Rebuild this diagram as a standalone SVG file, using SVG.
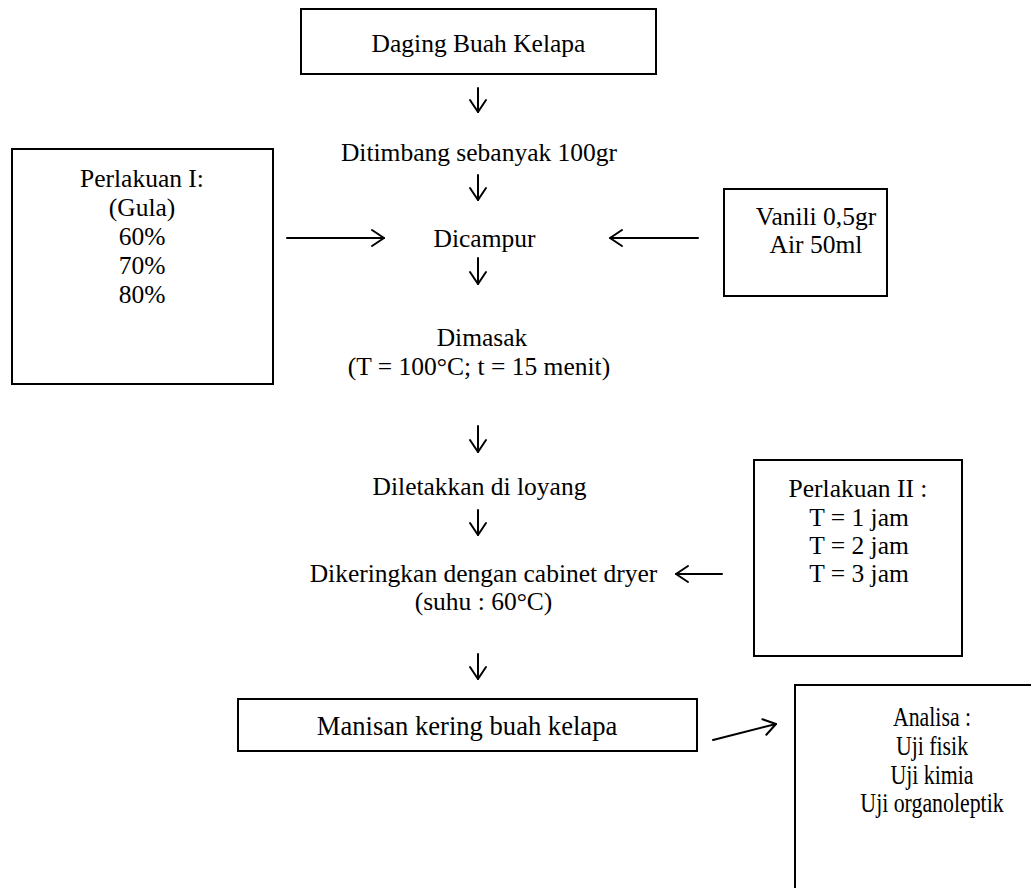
<svg xmlns="http://www.w3.org/2000/svg" width="1031" height="888" viewBox="0 0 1031 888">
<defs>
<style>
.box{fill:#fff;stroke:#000;stroke-width:2}
.t{font-family:"Liberation Serif","Times New Roman",serif;font-size:25.5px;fill:#000;text-anchor:middle}
.n{font-size:28px}
.c{fill:none;stroke:#000;stroke-width:2;stroke-linecap:round;stroke-linejoin:round}
</style>
<marker id="ah" viewBox="0 0 20 20" refX="18" refY="10" markerWidth="20" markerHeight="20" markerUnits="userSpaceOnUse" orient="auto">
<path d="M6 2 L18 10 L6 18" fill="none" stroke="#000" stroke-width="2" stroke-linecap="round" stroke-linejoin="round"/>
</marker>
</defs>
<rect width="1031" height="888" fill="#fff"/>
<g id="daging">
<rect class="box" x="301" y="9" width="355" height="65"/>
<text class="t" x="478.5" y="52">Daging Buah Kelapa</text>
</g>
<g id="ditimbang"><text class="t" x="479" y="161">Ditimbang sebanyak 100gr</text></g>
<g id="dicampur"><text class="t" x="484.5" y="247">Dicampur</text></g>
<g id="perlakuan1">
<rect class="box" x="12" y="149" width="261" height="235"/>
<text class="t" x="142" y="187">Perlakuan I:</text>
<text class="t" x="142" y="216">(Gula)</text>
<text class="t" x="142" y="245">60%</text>
<text class="t" x="142" y="274">70%</text>
<text class="t" x="142" y="303">80%</text>
</g>
<g id="vanili">
<rect class="box" x="724" y="189" width="163" height="107"/>
<text class="t" x="816" y="225">Vanili 0,5gr</text>
<text class="t" x="816" y="253">Air 50ml</text>
</g>
<g id="dimasak">
<text class="t" x="482" y="346">Dimasak</text>
<text class="t" x="479" y="375">(T = 100°C; t = 15 menit)</text>
</g>
<g id="diletakkan"><text class="t" x="479.5" y="495">Diletakkan di loyang</text></g>
<g id="dikeringkan">
<text class="t" x="483.5" y="582">Dikeringkan dengan cabinet dryer</text>
<text class="t" x="483.5" y="610">(suhu : 60°C)</text>
</g>
<g id="perlakuan2">
<rect class="box" x="754" y="460" width="208" height="196"/>
<text class="t" x="858" y="497">Perlakuan II :</text>
<text class="t" x="859" y="526">T = 1 jam</text>
<text class="t" x="859" y="554">T = 2 jam</text>
<text class="t" x="859" y="582">T = 3 jam</text>
</g>
<g id="manisan">
<rect class="box" x="238" y="699" width="459" height="52"/>
<text class="t n" transform="translate(467 735) scale(0.95 1)" x="0" y="0">Manisan kering buah kelapa</text>
</g>
<g id="analisa">
<rect class="box" x="795" y="685" width="242" height="210"/>
<g transform="translate(932 0) scale(0.78 1)">
<text class="t n" x="0" y="726">Analisa :</text>
<text class="t n" x="0" y="755">Uji fisik</text>
<text class="t n" x="0" y="784">Uji kimia</text>
<text class="t n" x="0" y="812">Uji organoleptik</text>
</g>
</g>
<g id="connectors">
<line class="c" x1="478" y1="88" x2="478" y2="112" marker-end="url(#ah)"/>
<line class="c" x1="478" y1="175" x2="478" y2="200" marker-end="url(#ah)"/>
<line class="c" x1="287" y1="238" x2="384" y2="238" marker-end="url(#ah)"/>
<line class="c" x1="698" y1="238" x2="610" y2="238" marker-end="url(#ah)"/>
<line class="c" x1="478" y1="258" x2="478" y2="284" marker-end="url(#ah)"/>
<line class="c" x1="478" y1="426" x2="478" y2="452" marker-end="url(#ah)"/>
<line class="c" x1="478" y1="510" x2="478" y2="535" marker-end="url(#ah)"/>
<line class="c" x1="722" y1="574" x2="676" y2="574" marker-end="url(#ah)"/>
<line class="c" x1="478" y1="654" x2="478" y2="679" marker-end="url(#ah)"/>
<line class="c" x1="713" y1="740" x2="776" y2="724" marker-end="url(#ah)"/>
</g>
</svg>
